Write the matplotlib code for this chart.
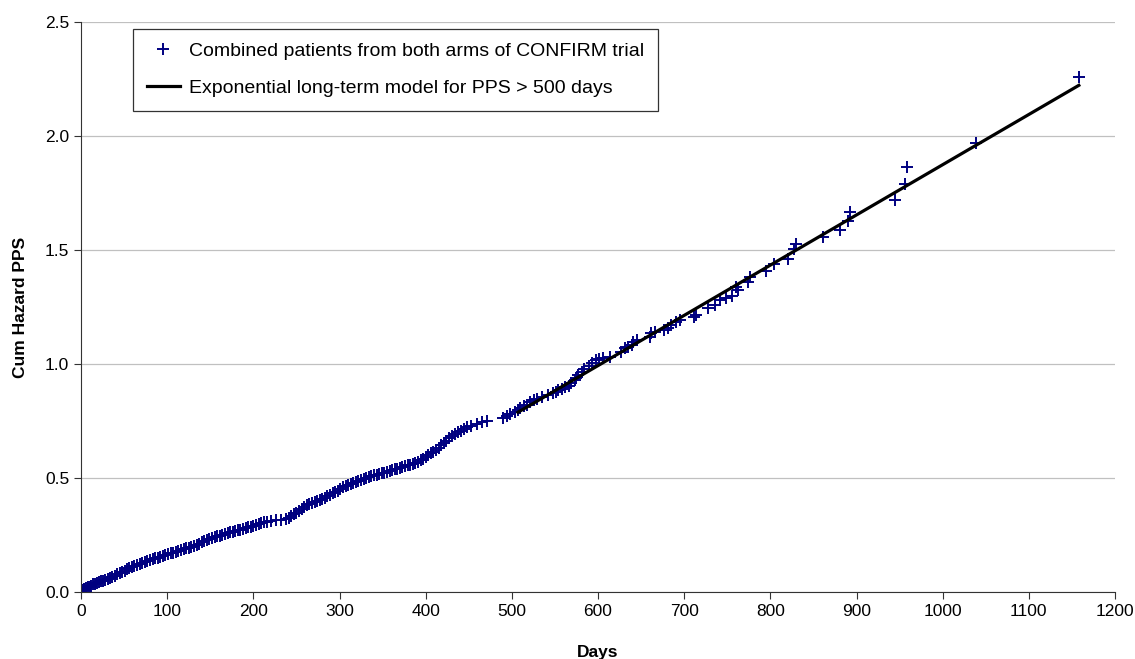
import matplotlib.pyplot as plt
from matplotlib.ticker import FormatStrFormatter

plt.rcParams['font.family'] = ['Liberation Sans', 'DejaVu Sans']

# Cumulative hazard of post-progression survival, both arms pooled
days = [0, 1, 3, 4, 6, 8, 10, 12, 14, 16, 18, 21, 23, 26, 28, 31, 34, 36, 39, 42,
        45, 48, 51, 53, 56, 59, 62, 65, 68, 71, 74, 77, 80, 83, 86, 89, 92, 95, 98, 101,
        104, 107, 110, 113, 116, 119, 122, 125, 128, 131, 134, 137, 140, 143, 146, 149,
        152, 155, 158, 161, 164, 167, 170, 173, 176, 179, 182, 185, 188, 191, 194, 197,
        200, 203, 206, 209, 212, 216, 220, 226, 232, 238, 241, 244, 247, 250, 253, 256,
        259, 262, 265, 268, 271, 274, 277, 280, 283, 286, 289, 292, 295, 298, 301, 304,
        307, 310, 313, 316, 319, 322, 325, 328, 331, 334, 337, 340, 343, 346, 349, 352,
        355, 358, 361, 364, 367, 370, 373, 376, 379, 382, 385, 388, 391, 394, 397, 400,
        403, 406, 409, 412, 415, 418, 421, 424, 427, 430, 434, 438, 441, 444, 448, 453,
        459, 465, 471, 490, 494, 498, 504, 507, 510, 514, 517, 521, 526, 529, 535, 542,
        548, 551, 554, 558, 562, 566, 569, 573, 575, 577, 581, 584, 589, 593, 598, 601,
        606, 614, 627, 631, 635, 639, 641, 645, 660, 662, 666, 677, 681, 685, 691, 695,
        711, 714, 728, 736, 742, 749, 755, 760, 762, 774, 776, 795, 804, 820, 828, 830,
        861, 881, 890, 893, 945, 956, 958, 1039, 1158]
cum_hazard = [0.004, 0.008, 0.010, 0.013, 0.016, 0.020, 0.024, 0.028, 0.033, 0.036,
              0.040, 0.043, 0.046, 0.050, 0.054, 0.058, 0.063, 0.067, 0.072, 0.078,
              0.083, 0.088, 0.094, 0.099, 0.104, 0.108, 0.113, 0.118, 0.123, 0.127,
              0.131, 0.135, 0.139, 0.143, 0.147, 0.151, 0.155, 0.158, 0.162, 0.165,
              0.169, 0.173, 0.177, 0.181, 0.185, 0.188, 0.192, 0.195, 0.198, 0.202,
              0.207, 0.212, 0.218, 0.223, 0.228, 0.233, 0.237, 0.241, 0.244, 0.247,
              0.251, 0.255, 0.258, 0.261, 0.264, 0.267, 0.270, 0.273, 0.276, 0.279,
              0.283, 0.287, 0.291, 0.295, 0.299, 0.302, 0.305, 0.308, 0.311, 0.314,
              0.316, 0.320, 0.326, 0.333, 0.340, 0.348, 0.356, 0.364, 0.372, 0.380,
              0.386, 0.390, 0.394, 0.398, 0.403, 0.408, 0.414, 0.420, 0.426, 0.432,
              0.438, 0.444, 0.452, 0.459, 0.464, 0.469, 0.473, 0.478, 0.483, 0.488,
              0.492, 0.496, 0.500, 0.503, 0.507, 0.511, 0.514, 0.518, 0.521, 0.524,
              0.527, 0.530, 0.534, 0.538, 0.541, 0.545, 0.548, 0.552, 0.555, 0.559,
              0.563, 0.567, 0.572, 0.578, 0.585, 0.592, 0.600, 0.608, 0.615, 0.624,
              0.633, 0.643, 0.653, 0.664, 0.675, 0.684, 0.694, 0.703, 0.708, 0.716,
              0.723, 0.729, 0.737, 0.746, 0.751, 0.762, 0.771, 0.782, 0.789, 0.796,
              0.805, 0.815, 0.822, 0.833, 0.840, 0.846, 0.857, 0.863, 0.871, 0.878,
              0.886, 0.892, 0.898, 0.905, 0.915, 0.930, 0.940, 0.952, 0.966, 0.978,
              0.991, 1.006, 1.018, 1.022, 1.025, 1.030, 1.054, 1.069, 1.076, 1.083,
              1.098, 1.105, 1.117, 1.135, 1.140, 1.149, 1.157, 1.171, 1.186, 1.195,
              1.205, 1.215, 1.244, 1.259, 1.281, 1.290, 1.300, 1.339, 1.325, 1.361,
              1.383, 1.408, 1.437, 1.461, 1.503, 1.525, 1.556, 1.588, 1.629, 1.667,
              1.719, 1.789, 1.863, 1.968, 2.258]

# Exponential model fitted beyond 500 days (constant hazard -> straight line)
model_days = [507, 1158]
model_hazard = [0.788, 2.222]

fig = plt.figure(figsize=(11.35, 6.59), dpi=100)
ax = fig.add_axes([0.0714, 0.1017, 0.911, 0.865])

ax.plot(days, cum_hazard, linestyle='none', marker='+', markersize=9,
        markeredgewidth=1.4, color='#000080',
        label='Combined patients from both arms of CONFIRM trial')
ax.plot(model_days, model_hazard, color='black', linewidth=2.3,
        label='Exponential long-term model for PPS > 500 days')

ax.set_xlim(0, 1200)
ax.set_ylim(0, 2.5)
ax.set_xticks(range(0, 1201, 100))
ax.set_yticks([0, 0.5, 1.0, 1.5, 2.0, 2.5])
ax.yaxis.set_major_formatter(FormatStrFormatter('%.1f'))
ax.tick_params(labelsize=12.5, length=5, color='#333333', direction='out')
ax.yaxis.grid(True, color='#c0c0c0', linewidth=0.9)
ax.set_axisbelow(True)
for side in ['top', 'right']:
    ax.spines[side].set_visible(False)
for side in ['left', 'bottom']:
    ax.spines[side].set_color('#333333')

ax.set_xlabel('Days', fontsize=12.5, fontweight='bold', labelpad=19)
ax.set_ylabel('Cum Hazard PPS', fontsize=12.5, fontweight='bold', labelpad=12)

leg = ax.legend(loc='upper left', bbox_to_anchor=(0.0503, 0.988), borderaxespad=0,
                fontsize=14, frameon=True, fancybox=False, edgecolor='#333333',
                framealpha=1, labelspacing=1.0, borderpad=0.7, handlelength=1.7,
                handletextpad=0.5)
leg.get_frame().set_linewidth(0.9)

plt.savefig('out.png', dpi=100)
plt.close()
